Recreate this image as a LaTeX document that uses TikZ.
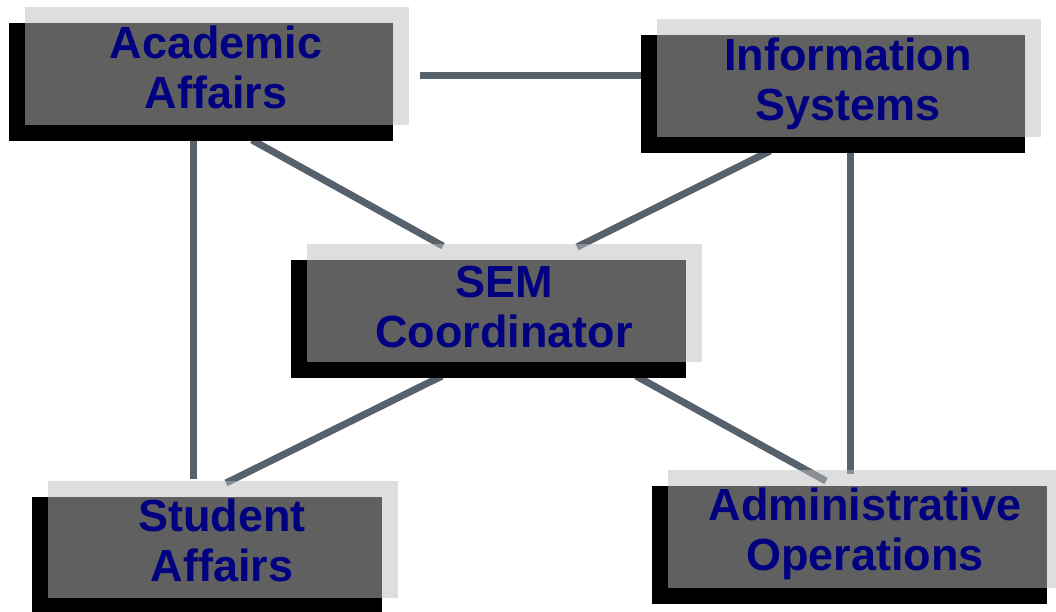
\documentclass[tikz,border=0pt]{standalone}
\usepackage{fontspec}
\setmainfont{Liberation Sans}
\definecolor{conncol}{RGB}{86,97,107}
\definecolor{darkfill}{RGB}{96,96,96}
\definecolor{lightfill}{RGB}{189,189,189}
\definecolor{navytext}{RGB}{0,0,128}
\tikzset{
  conn/.style={draw=conncol, line width=7pt},
  shadowbox/.style={fill=black, draw=none},
  lightbox/.style={fill=lightfill, fill opacity=0.5, draw=none},
  mainbox/.style={fill=darkfill, draw=none},
  label/.style={text=navytext, font=\fontsize{45}{50}\selectfont\bfseries, align=center, inner sep=0pt, anchor=base}
}
\newcommand{\semunit}[5]{%
  % #1 name, #2 x1, #3 y1, #4 x2, #5 y2 (dark region)
  \path[shadowbox] (#2-16,#3) rectangle (#4,#5+16);
  \path[lightbox] (#2,#3-16) rectangle (#4+16,#5);
  \node[mainbox, inner sep=0pt, anchor=north west, minimum width=#4-#2, minimum height=#5-#3] (#1) at (#2,#3) {};
}
\begin{document}
\begin{tikzpicture}[x=1pt,y=-1pt]
\useasboundingbox (0,0) rectangle (1056,611);
\clip (0,0) rectangle (1056,611);
% connector end points
\coordinate (aa-r) at (420,75);
\coordinate (is-l) at (645,75);
\coordinate (aa-b1) at (193,138);
\coordinate (sa-t1) at (193,479);
\coordinate (aa-b2) at (252,140);
\coordinate (sem-t1) at (443,246);
\coordinate (is-b1) at (770,151);
\coordinate (sem-t2) at (577,247);
\coordinate (is-b2) at (850,151);
\coordinate (ao-t1) at (850,474);
\coordinate (sem-b1) at (442,376);
\coordinate (sa-t2) at (226,483);
\coordinate (sem-b2) at (636,376);
\coordinate (ao-t2) at (826,481);
% connectors
\draw[conn] (aa-r) -- (is-l);
\draw[conn] (aa-b1) -- (sa-t1);
\draw[conn] (aa-b2) -- (sem-t1);
\draw[conn] (is-b1) -- (sem-t2);
\draw[conn] (is-b2) -- (ao-t1);
\draw[conn] (sem-b1) -- (sa-t2);
\draw[conn] (sem-b2) -- (ao-t2);
% boxes
\semunit{aa}{25}{23}{393}{125}
\semunit{is}{657}{35}{1025}{137}
\semunit{sem}{307}{260}{686}{362}
\semunit{sa}{48}{497}{382}{598}
\semunit{ao}{668}{486}{1047}{588}
% texts
\node[label] (aa-text) at (216,108) {Academic\\Affairs};
\node[label] (is-text) at (848,120) {Information\\Systems};
\node[label] (sem-text) at (504,347) {SEM\\Coordinator};
\node[label] (sa-text) at (222,581) {Student\\Affairs};
\node[label] (ao-text) at (865,570) {Administrative\\Operations};
\end{tikzpicture}
\end{document}
